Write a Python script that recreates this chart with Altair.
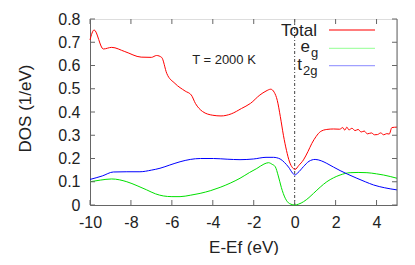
import altair as alt
import pandas as pd

# ---- data ----
total_x = [-10, -9.8, -9.35, -8.94, -8.3, -7.5, -7.0, -6.75, -6.5, -6.25, -5.85, -5.35, -5.05, -4.85,
           -4.5, -4.0, -3.6, -3.1, -2.6, -2.16, -1.7, -1.4, -1.17, -1.0, -0.85, -0.7, -0.55, -0.4,
           -0.25, -0.1, 0.02, 0.2, 0.43, 0.65, 0.84, 1.05, 1.25, 1.57, 1.9, 2.2, 2.35, 2.45, 2.55,
           2.65, 2.8, 2.95, 3.1, 3.25, 3.4, 3.55, 3.75, 3.9, 4.05, 4.2, 4.35, 4.5, 4.62, 4.75, 5.0]
total_y = [0.71, 0.753, 0.671, 0.678, 0.66, 0.636, 0.635, 0.643, 0.635, 0.566, 0.523, 0.49, 0.473, 0.437,
           0.402, 0.386, 0.383, 0.392, 0.415, 0.437, 0.473, 0.49, 0.498, 0.485, 0.45, 0.38, 0.30, 0.235,
           0.185, 0.16, 0.153, 0.17, 0.194, 0.23, 0.265, 0.295, 0.315, 0.325, 0.327, 0.326, 0.333, 0.322, 0.335,
           0.323, 0.33, 0.32, 0.325, 0.314, 0.318, 0.306, 0.31, 0.302, 0.303, 0.31, 0.302, 0.307, 0.305, 0.333, 0.335]

t2g_x = [-10, -9.4, -8.86, -8.2, -7.56, -7.0, -6.58, -6.1, -5.6, -5.1, -4.6, -3.97, -3.3, -2.67, -2.0,
         -1.4, -1.04, -0.71, -0.5, -0.3, -0.1, 0.0, 0.15, 0.43, 0.7, 1.0, 1.3, 1.57, 1.9, 2.22, 2.6,
         3.04, 3.45, 3.86, 4.4, 5.0]
t2g_y = [0.11, 0.125, 0.142, 0.143, 0.143, 0.15, 0.158, 0.172, 0.186, 0.196, 0.2, 0.2, 0.197, 0.195, 0.198,
         0.205, 0.205, 0.198, 0.183, 0.163, 0.137, 0.129, 0.138, 0.165, 0.188, 0.196, 0.19, 0.179, 0.163,
         0.148, 0.132, 0.115, 0.1, 0.086, 0.074, 0.065]

eg_x = [-10, -9.5, -8.94, -8.2, -7.7, -7.23, -6.8, -6.42, -6.0, -5.6, -5.1, -4.62, -4.1, -3.64, -3.15,
        -2.67, -2.2, -1.85, -1.5, -1.28, -1.1, -0.95, -0.8, -0.65, -0.46, -0.25, 0.0, 0.2, 0.43, 0.7,
        0.92, 1.25, 1.57, 1.9, 2.22, 2.71, 3.1, 3.53, 4.0, 4.34, 5.0]
eg_y = [0.1, 0.107, 0.112, 0.1, 0.083, 0.065, 0.048, 0.039, 0.036, 0.036, 0.042, 0.05, 0.062, 0.076, 0.094,
        0.115, 0.14, 0.157, 0.176, 0.182, 0.175, 0.165, 0.125, 0.075, 0.029, 0.006, 0.0, 0.004, 0.014, 0.032,
        0.05, 0.077, 0.1, 0.117, 0.129, 0.139, 0.14, 0.139, 0.134, 0.129, 0.115]

series = ["Total", "eg", "t2g"]
colors = ["#ff0000", "#00e000", "#0000ff"]
legend_colors = ["#ff5050", "#a8ffa8", "#a0a0ff"]
x_ticks = [-10, -8, -6, -4, -2, 0, 2, 4]
y_ticks = [0, 0.1, 0.2, 0.3, 0.4, 0.5, 0.6, 0.7, 0.8]
annotation = "T = 2000 K"
legend_main = ["Total", "e", "t"]
legend_sub = ["g", "2g"]
x_title = "E-Ef (eV)"
y_title = "DOS (1/eV)"

W, H = 307, 186
FONT = "Liberation Sans"
AX = "#666666"
TXT = "#222222"

rows = []
for name, xs_, ys_ in [("Total", total_x, total_y), ("eg", eg_x, eg_y), ("t2g", t2g_x, t2g_y)]:
    for a, b in zip(xs_, ys_):
        rows.append({"series": name, "x": a, "y": b})
df = pd.DataFrame(rows)

xs = alt.Scale(domain=[-10, 5], nice=False, zero=False)
ys = alt.Scale(domain=[0, 0.8], nice=False)

xaxis = alt.Axis(
    values=x_ticks, labelExpr="'' + datum.value", ticks=False, tickSize=0, grid=False,
    labelOverlap=False, labelFlush=False,
    domainColor=AX, labelFont=FONT, labelFontSize=16, labelColor=TXT, labelPadding=9,
    title=x_title, titleFont=FONT, titleFontSize=17, titleFontWeight="normal", titleColor=TXT,
    titleY=34, titleBaseline="top")
yaxis = alt.Axis(
    values=y_ticks, format="~g", ticks=False, tickSize=0, grid=False,
    labelOverlap=False, labelFlush=False,
    domainColor=AX, labelFont=FONT, labelFontSize=16, labelColor=TXT, labelPadding=10,
    title=y_title, titleFont=FONT, titleFontSize=17, titleFontWeight="normal", titleColor=TXT,
    titleX=-65, titleY=89, titleBaseline="middle", titleAngle=-90)


def X(field):
    return alt.X(field, type="quantitative", scale=xs, axis=xaxis, title=x_title)


def Y(field):
    return alt.Y(field, type="quantitative", scale=ys, axis=yaxis, title=y_title)


lines = alt.Chart(df).mark_line(strokeWidth=1, interpolate="monotone").encode(
    x=X("x"), y=Y("y"),
    color=alt.Color("series:N", scale=alt.Scale(domain=series, range=colors), legend=None),
    detail="series:N",
)

xt = pd.DataFrame({"x": x_ticks})
yt = pd.DataFrame({"y": y_ticks})
bottom_ticks = alt.Chart(xt).mark_rule(color=AX).encode(x=X("x"), y=alt.value(H), y2=alt.value(H - 5))
top_ticks = alt.Chart(xt).mark_rule(color=AX).encode(x=X("x"), y=alt.value(0), y2=alt.value(5))
left_ticks = alt.Chart(yt).mark_rule(color=AX).encode(y=Y("y"), x=alt.value(0), x2=alt.value(5))
right_ticks = alt.Chart(yt).mark_rule(color=AX).encode(y=Y("y"), x=alt.value(W - 5), x2=alt.value(W))
right_border = alt.Chart(pd.DataFrame({"a": [0]})).mark_rule(color=AX).encode(
    x=alt.value(W), y=alt.value(0), y2=alt.value(H))

zero_line = alt.Chart(pd.DataFrame({"x": [0]})).mark_rule(color="#444444", strokeWidth=1, strokeDash=[3, 2, 1, 2]).encode(
    x=X("x"), y=alt.value(0), y2=alt.value(H))

one = pd.DataFrame({"a": [0]})
ann = alt.Chart(one).mark_text(text=annotation, font=FONT, fontSize=13, color=TXT, align="center", baseline="middle").encode(
    x=alt.value(134), y=alt.value(41))

leg = []
leg.append(alt.Chart(one).mark_text(text=legend_main[0], font=FONT, fontSize=17, color=TXT, align="right", baseline="alphabetic").encode(
    x=alt.value(227), y=alt.value(17)))
leg.append(alt.Chart(one).mark_text(text=legend_main[1], font=FONT, fontSize=17, color=TXT, align="right", baseline="alphabetic").encode(
    x=alt.value(220), y=alt.value(32.7)))
leg.append(alt.Chart(one).mark_text(text=legend_sub[0], font=FONT, fontSize=13, color=TXT, align="left", baseline="alphabetic").encode(
    x=alt.value(221), y=alt.value(38)))
leg.append(alt.Chart(one).mark_text(text=legend_main[2], font=FONT, fontSize=17, color=TXT, align="right", baseline="alphabetic").encode(
    x=alt.value(212), y=alt.value(51)))
leg.append(alt.Chart(one).mark_text(text=legend_sub[1], font=FONT, fontSize=13, color=TXT, align="left", baseline="alphabetic").encode(
    x=alt.value(213), y=alt.value(56)))
for c, yy in zip(legend_colors, [11, 29.3, 46.7]):
    leg.append(alt.Chart(one).mark_rule(color=c, strokeWidth=1.3).encode(x=alt.value(239), x2=alt.value(285), y=alt.value(yy)))

chart = alt.layer(lines, zero_line, bottom_ticks, top_ticks, left_ticks, right_ticks, right_border, ann, *leg).properties(
    width=W, height=H,
    autosize=alt.AutoSizeParams(type="none"),
    padding={"left": 82, "top": 11, "right": 10, "bottom": 50},
).configure_view(stroke=None).configure(background="white")

chart.save("out.html", embed_options={"renderer": "svg", "actions": False})
